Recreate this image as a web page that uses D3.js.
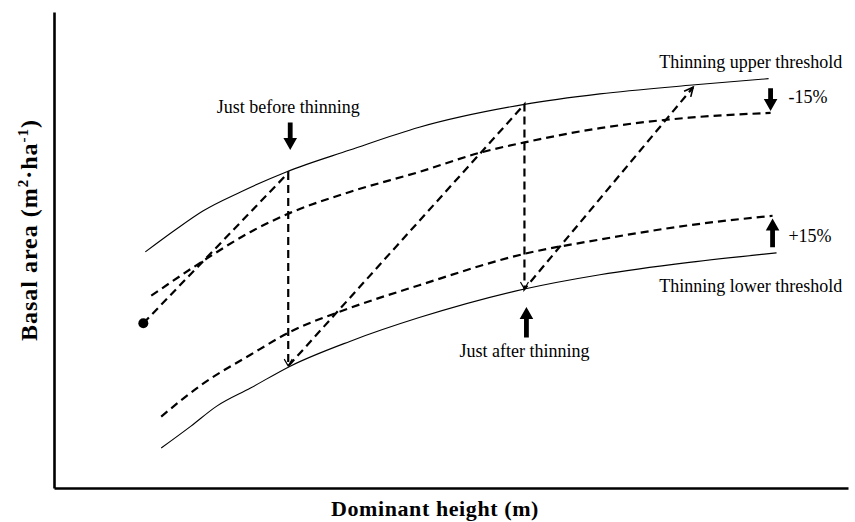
<!DOCTYPE html>
<html>
<head>
<meta charset="utf-8">
<script src="https://cdn.jsdelivr.net/npm/d3@7"></script>
<style>
  html, body { margin: 0; padding: 0; background: #fff; }
  svg { display: block; }
</style>
</head>
<body>
<svg id="chart" width="855" height="522"></svg>
<script>
// ---- Data (arbitrary units; dominant height vs basal area) ----
const upperThresholdX = [4.6, 6.1, 7.5, 9.4, 11.7, 14.9, 18.4, 23.7, 27.5, 32.0, 36.0];
const upperThresholdY = [24.8, 27.1, 29.1, 31.1, 33.2, 35.5, 37.9, 40.3, 41.4, 42.3, 43.0];

const upperMinus15X = [4.9, 7.4, 9.9, 11.9, 14.9, 18.4, 21.6, 23.7, 27.5, 32.0, 36.1];
const upperMinus15Y = [20.2, 23.7, 26.9, 28.9, 31.1, 33.2, 35.3, 36.3, 37.8, 38.9, 39.4];

const lowerPlus15X = [5.4, 7.4, 9.9, 11.9, 14.9, 18.4, 23.7, 27.5, 32.0, 36.2];
const lowerPlus15Y = [7.5, 10.8, 14.0, 16.4, 18.9, 21.3, 24.6, 26.1, 27.6, 28.6];

const lowerThresholdX = [5.4, 6.9, 8.2, 9.9, 11.9, 14.9, 18.4, 23.7, 27.5, 32.0, 36.4];
const lowerThresholdY = [4.2, 6.5, 8.6, 10.5, 12.8, 15.4, 17.9, 20.9, 22.4, 23.7, 24.7];

const trajectoryX = [4.5, 11.8, 11.8, 23.7, 23.7, 32.2];
const trajectoryY = [17.3, 33.1, 12.8, 40.3, 20.9, 42.1];

// annotation arrows: x, yStart(base), yEnd(tip)
const arrowX    = [11.9, 23.8, 36.1, 36.2];
const arrowFrom = [38.4, 15.8, 42.0, 25.3];
const arrowTo   = [35.5, 19.0, 39.6, 28.3];

// labels
const labelText = ["Just before thinning", "Just after thinning", "Thinning upper threshold", "Thinning lower threshold", "-15%", "+15%"];
const labelX    = [11.8, 23.7, 35.1, 35.1, 37.0, 37.0];
const labelY    = [39.4, 13.8, 44.1, 20.6, 40.4, 25.8];
const labelAnchor = ["middle", "middle", "middle", "middle", "start", "start"];

// ---- Chart ----
const svg = d3.select("#chart");
const x = d3.scaleLinear().domain([0, 40]).range([54, 848]);
const y = d3.scaleLinear().domain([0, 50]).range([488, 12]);
const serif = "'Liberation Serif', 'Times New Roman', serif";

const zip = (xs, ys) => xs.map((v, i) => [v, ys[i]]);
const curve = d3.line().x(d => x(d[0])).y(d => y(d[1])).curve(d3.curveMonotoneX);
const straight = d3.line().x(d => x(d[0])).y(d => y(d[1]));

// axes (no ticks)
svg.append("g").attr("transform", `translate(0,${y(0)})`)
  .call(d3.axisBottom(x).ticks(0).tickSizeOuter(0));
svg.append("g").attr("transform", `translate(${x(0)},0)`)
  .call(d3.axisLeft(y).ticks(0).tickSizeOuter(0));
svg.selectAll(".domain").attr("stroke", "#000").attr("stroke-width", 2.6);

// solid thresholds
[[upperThresholdX, upperThresholdY], [lowerThresholdX, lowerThresholdY]].forEach(([xs, ys]) => {
  svg.append("path").datum(zip(xs, ys)).attr("d", curve)
    .attr("fill", "none").attr("stroke", "#000").attr("stroke-width", 1.1);
});

// dashed +/-15% curves
[[upperMinus15X, upperMinus15Y], [lowerPlus15X, lowerPlus15Y]].forEach(([xs, ys]) => {
  svg.append("path").datum(zip(xs, ys)).attr("d", curve)
    .attr("fill", "none").attr("stroke", "#000").attr("stroke-width", 2.2)
    .attr("stroke-dasharray", "8,5");
});

// trajectory
const traj = zip(trajectoryX, trajectoryY);
svg.append("path").datum(traj).attr("d", straight)
  .attr("fill", "none").attr("stroke", "#000").attr("stroke-width", 2.2)
  .attr("stroke-dasharray", "8,5");

// start dot
svg.append("circle").attr("cx", x(traj[0][0])).attr("cy", y(traj[0][1])).attr("r", 5).attr("fill", "#000");

// open arrowhead at trajectory end
{
  const a = traj[traj.length - 2], b = traj[traj.length - 1];
  const ax = x(a[0]), ay = y(a[1]), bx = x(b[0]), by = y(b[1]);
  const ang = Math.atan2(by - ay, bx - ax);
  const L = 10, w = 0.45;
  const p1 = [bx - L * Math.cos(ang - w), by - L * Math.sin(ang - w)];
  const p2 = [bx - L * Math.cos(ang + w), by - L * Math.sin(ang + w)];
  svg.append("path").attr("d", `M${p1}L${bx},${by}L${p2}`)
    .attr("fill", "none").attr("stroke", "#000").attr("stroke-width", 1.6);
}
// small open arrowheads at the bottoms of the vertical drops
[2, 4].forEach(i => {
  const bx = x(traj[i][0]), by = y(traj[i][1]);
  svg.append("path").attr("d", `M${bx - 4},${by - 7}L${bx},${by}L${bx + 4},${by - 7}`)
    .attr("fill", "none").attr("stroke", "#000").attr("stroke-width", 1.2);
});

// thick block arrows
arrowX.forEach((ax, i) => {
  const px = x(ax), y0 = y(arrowFrom[i]), y1 = y(arrowTo[i]);
  const dir = Math.sign(y1 - y0);
  const head = 12 * dir, sw = 2.4, hw = 6.8;
  const yh = y1 - head;
  const d = `M${px - sw},${y0}L${px + sw},${y0}L${px + sw},${yh}L${px + hw},${yh}L${px},${y1}L${px - hw},${yh}L${px - sw},${yh}Z`;
  svg.append("path").attr("d", d).attr("fill", "#000");
});

// labels
labelText.forEach((t, i) => {
  svg.append("text").attr("x", x(labelX[i])).attr("y", y(labelY[i]))
    .attr("text-anchor", labelAnchor[i])
    .attr("font-family", serif)
    .attr("font-size", 18).attr("fill", "#000").text(t);
});

// axis titles
const xt = svg.append("text").attr("x", 435).attr("y", 516).attr("text-anchor", "middle")
  .attr("font-family", serif).attr("font-weight", "bold").attr("font-size", 22)
  .attr("letter-spacing", 0.6);
xt.append("tspan").text("Dominant");
xt.append("tspan").attr("dx", 6).text("height (m)");

const yt = svg.append("text").attr("transform", "translate(37,230) rotate(-90)")
  .attr("text-anchor", "middle")
  .attr("font-family", serif).attr("font-weight", "bold").attr("font-size", 24)
  .attr("letter-spacing", 1);
yt.append("tspan").text("Basal area (m");
yt.append("tspan").attr("dy", -9).attr("font-size", 15).text("2");
yt.append("tspan").attr("dy", 9).text("·ha");
yt.append("tspan").attr("dy", -9).attr("font-size", 15).text("-1");
yt.append("tspan").attr("dy", 9).text(")");
</script>
</body>
</html>
